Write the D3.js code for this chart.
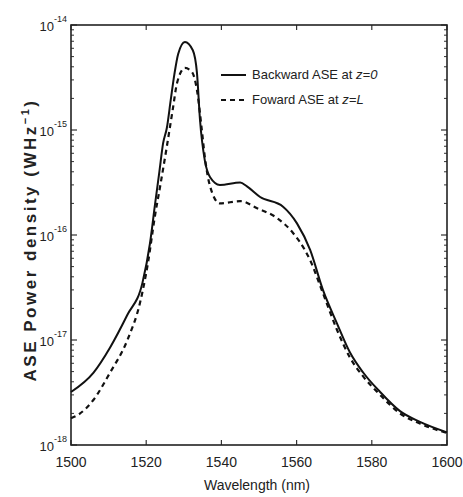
<!DOCTYPE html>
<html>
<head>
<meta charset="utf-8">
<script src="https://cdn.jsdelivr.net/npm/d3@7"></script>
<style>
  body { margin: 0; background: #fff; }
  svg text { font-family: "Liberation Sans", Arial, sans-serif; fill: #222; }
</style>
</head>
<body>
<div id="chart"></div>
<script>
// wavelength (nm) and ASE power density (W/Hz)
const backWl = [1500, 1506, 1510.4, 1515, 1519, 1521, 1522.3, 1523.5, 1524.5, 1525.5, 1526.5, 1527.5, 1528.5, 1530.3, 1532.4, 1533.5, 1534.3, 1535.6, 1537, 1539.6, 1545, 1546.8, 1550.3, 1556.4, 1560.1, 1563.6, 1567, 1570.7, 1574.2, 1577.7, 1582.2, 1587.5, 1592.8, 1600];
const backPw = [3.2e-18, 4.9e-18, 8.5e-18, 1.74e-17, 3.5e-17, 8.3e-17, 1.9e-16, 4.0e-16, 7.5e-16, 1.05e-15, 1.9e-15, 3.4e-15, 5.3e-15, 6.9e-15, 5.75e-15, 3.5e-15, 1.26e-15, 5.1e-16, 3.55e-16, 3.0e-16, 3.16e-16, 2.9e-16, 2.3e-16, 1.86e-16, 1.29e-16, 7.2e-17, 3.0e-17, 1.45e-17, 7.6e-18, 4.9e-18, 3.2e-18, 2.1e-18, 1.66e-18, 1.32e-18];

const fwdWl = [1500, 1502, 1506, 1510.4, 1515, 1518.4, 1520.5, 1522.3, 1523.7, 1525.5, 1527.1, 1528.2, 1530.3, 1532.2, 1533.5, 1534.8, 1535.6, 1537, 1539.6, 1545, 1549.5, 1554.8, 1559, 1562.2, 1563.6, 1567, 1570.7, 1574.2, 1577.7, 1582.2, 1587.5, 1592.8, 1600];
const fwdPw = [1.8e-18, 1.95e-18, 2.7e-18, 4.9e-18, 1.0e-17, 2.3e-17, 5.5e-17, 1.5e-16, 2.9e-16, 7.0e-16, 1.6e-15, 2.8e-15, 3.9e-15, 3.55e-15, 2.4e-15, 1.0e-15, 5.5e-16, 2.9e-16, 2.0e-16, 2.1e-16, 1.8e-16, 1.45e-16, 1.05e-16, 7.2e-17, 5.75e-17, 2.8e-17, 1.26e-17, 6.8e-18, 4.5e-18, 3.0e-18, 2.0e-18, 1.6e-18, 1.3e-18];

const xTicks = [1500, 1520, 1540, 1560, 1580, 1600];
const yExps = [-14, -15, -16, -17, -18];

const width = 463, height = 497;
const margin = { top: 25, right: 16, bottom: 52, left: 71 };
const innerW = width - margin.left - margin.right;
const innerH = height - margin.top - margin.bottom;

const svg = d3.select('#chart').append('svg')
  .attr('width', width)
  .attr('height', height);

const plot = svg.append('g')
  .attr('transform', `translate(${margin.left},${margin.top})`);

const x = d3.scaleLinear().domain([1500, 1600]).range([0, innerW]);
const y = d3.scaleLog().domain([1e-18, 1e-14]).range([innerH, 0]);

// log minor ticks on both sides
const minor = [];
for (let e = -18; e < -14; e++) {
  for (let m = 2; m <= 9; m++) minor.push(m * Math.pow(10, e));
}
plot.selectAll('.ymin').data(minor).enter().append('line')
  .attr('x1', 0).attr('x2', 3)
  .attr('y1', d => y(d)).attr('y2', d => y(d))
  .attr('stroke', '#333').attr('stroke-width', 1);
plot.selectAll('.ymin2').data(minor).enter().append('line')
  .attr('x1', innerW).attr('x2', innerW - 3)
  .attr('y1', d => y(d)).attr('y2', d => y(d))
  .attr('stroke', '#333').attr('stroke-width', 1);

// major ticks, inward
const majors = yExps.map(e => Math.pow(10, e));
plot.selectAll('.ymaj').data(majors).enter().append('line')
  .attr('x1', 0).attr('x2', 6)
  .attr('y1', d => y(d)).attr('y2', d => y(d))
  .attr('stroke', '#333').attr('stroke-width', 1.2);
plot.selectAll('.ymaj2').data(majors).enter().append('line')
  .attr('x1', innerW).attr('x2', innerW - 6)
  .attr('y1', d => y(d)).attr('y2', d => y(d))
  .attr('stroke', '#333').attr('stroke-width', 1.2);
plot.selectAll('.xmaj').data(xTicks).enter().append('line')
  .attr('x1', d => x(d)).attr('x2', d => x(d))
  .attr('y1', innerH).attr('y2', innerH - 5)
  .attr('stroke', '#333').attr('stroke-width', 1.2);
plot.selectAll('.xmaj2').data(xTicks).enter().append('line')
  .attr('x1', d => x(d)).attr('x2', d => x(d))
  .attr('y1', 0).attr('y2', 5)
  .attr('stroke', '#333').attr('stroke-width', 1.2);

// frame
plot.append('rect')
  .attr('width', innerW).attr('height', innerH)
  .attr('fill', 'none').attr('stroke', '#222').attr('stroke-width', 1.6);

// x tick labels
plot.selectAll('.xlab').data(xTicks).enter().append('text')
  .attr('x', d => x(d)).attr('y', innerH + 22)
  .attr('text-anchor', 'middle')
  .style('font-size', '14px')
  .text(d => d);

// y tick labels: 10 with superscript exponent
const ylab = plot.selectAll('.ylab').data(yExps).enter().append('text')
  .attr('x', -4).attr('y', d => y(Math.pow(10, d)) + 6)
  .attr('text-anchor', 'end')
  .style('font-size', '13px');
ylab.append('tspan').text('10');
ylab.append('tspan').attr('dy', -9).style('font-size', '9px').text(d => '-' + Math.abs(d));

// curves
const line = d3.line()
  .x(d => x(d[0]))
  .y(d => y(d[1]))
  .curve(d3.curveMonotoneX);

plot.append('path')
  .datum(backWl.map((w, i) => [w, backPw[i]]))
  .attr('fill', 'none').attr('stroke', '#111').attr('stroke-width', 2)
  .attr('d', line);

plot.append('path')
  .datum(fwdWl.map((w, i) => [w, fwdPw[i]]))
  .attr('fill', 'none').attr('stroke', '#111').attr('stroke-width', 2.2)
  .attr('stroke-dasharray', '5,4')
  .attr('d', line);

// legend
const lg = plot.append('g').attr('transform', 'translate(150,50)');
lg.append('line').attr('x1', 0).attr('x2', 25).attr('y1', 0).attr('y2', 0)
  .attr('stroke', '#111').attr('stroke-width', 2);
const t1 = lg.append('text').attr('x', 31).attr('y', 4).style('font-size', '13px');
t1.append('tspan').text('Backward ASE at ');
t1.append('tspan').style('font-style', 'italic').text('z=0');
lg.append('line').attr('x1', 0).attr('x2', 27).attr('y1', 25).attr('y2', 25)
  .attr('stroke', '#111').attr('stroke-width', 2.2).attr('stroke-dasharray', '5,4');
const t2 = lg.append('text').attr('x', 31).attr('y', 29).style('font-size', '13px');
t2.append('tspan').text('Foward ASE at ');
t2.append('tspan').style('font-style', 'italic').text('z=L');

// axis titles
svg.append('text')
  .attr('x', margin.left + innerW / 2 - 2).attr('y', 490)
  .attr('text-anchor', 'middle')
  .style('font-size', '14px')
  .text('Wavelength (nm)');

const yt = svg.append('text')
  .attr('transform', 'translate(36,240) rotate(-90)')
  .attr('text-anchor', 'middle')
  .style('font-size', '17px')
  .style('font-weight', 'bold')
  .style('letter-spacing', '2.5px');
yt.append('tspan').text('ASE Power density (WHz');
yt.append('tspan').attr('dy', -7).style('font-size', '11px').text('\u22121');
yt.append('tspan').attr('dy', 7).text(')');
</script>
</body>
</html>
